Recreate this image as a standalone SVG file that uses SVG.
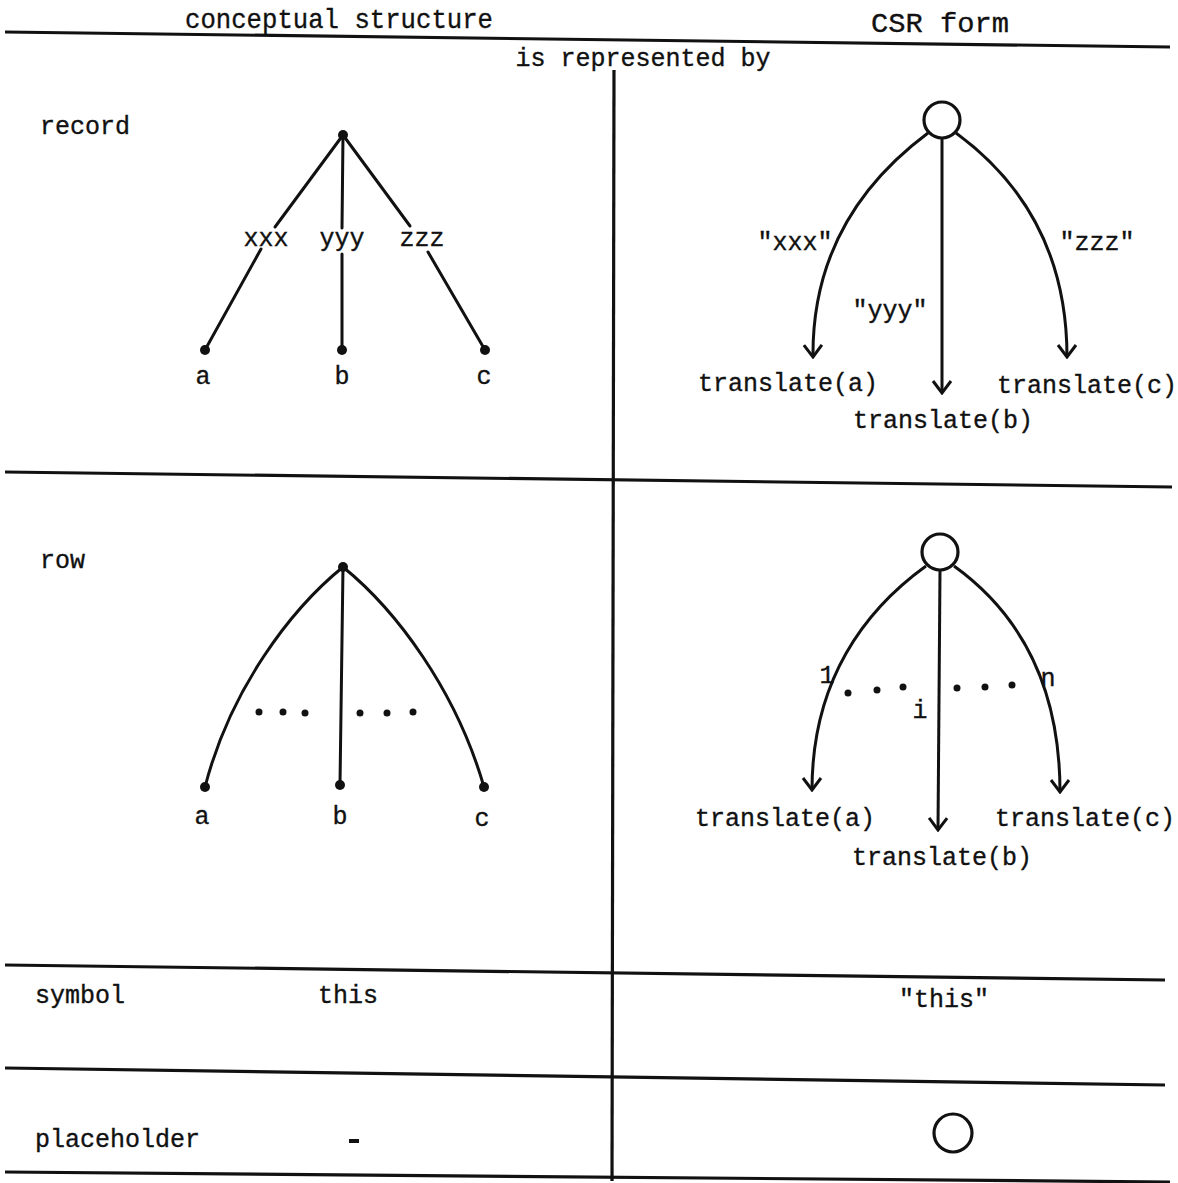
<svg xmlns="http://www.w3.org/2000/svg" width="1178" height="1183" viewBox="0 0 1178 1183">
<style>
.t{font-family:"Liberation Mono","DejaVu Sans Mono",monospace;font-size:25px;fill:#111;stroke:#111;stroke-width:0.35}
.h{font-size:28px}
.m{text-anchor:middle}
.rule{stroke:#111;stroke-width:3.2;fill:none}
.e{stroke:#111;stroke-width:3;fill:none;stroke-linecap:round}
.a{stroke:#111;stroke-width:3;fill:none;marker-end:url(#arr)}
.dot{fill:#111}
.ring{fill:#fff;stroke:#111;stroke-width:3.2}
</style>
<defs>
<marker id="arr" markerUnits="userSpaceOnUse" viewBox="-14 -11 16 22" markerWidth="16" markerHeight="22" refX="0" refY="0" orient="auto">
<path d="M-12,-9 L0,0 L-12,9" fill="none" stroke="#111" stroke-width="3" stroke-linejoin="miter"/>
</marker>
</defs>
<rect width="1178" height="1183" fill="#fff"/>

<g id="table">
<line class="rule" x1="5" y1="32" x2="1170" y2="47"/>
<line class="rule" x1="5" y1="472" x2="1172" y2="487"/>
<line class="rule" x1="5" y1="965" x2="1165" y2="980"/>
<line class="rule" x1="5" y1="1068" x2="1165" y2="1085"/>
<line class="rule" x1="5" y1="1172" x2="1170" y2="1182"/>
<line class="rule" x1="614" y1="70" x2="612" y2="1181"/>
<text class="t h m" x="339" y="28" textLength="308" lengthAdjust="spacingAndGlyphs">conceptual structure</text>
<text class="t h m" x="940" y="32" textLength="138" lengthAdjust="spacingAndGlyphs">CSR form</text>
<text class="t m" x="643" y="66">is represented by</text>
<text class="t" x="40" y="134">record</text>
<text class="t" x="40" y="568">row</text>
<text class="t" x="35" y="1003">symbol</text>
<text class="t" x="35" y="1147">placeholder</text>
</g>

<g id="connectors">
<line class="e" x1="343" y1="135" x2="275" y2="227"/>
<line class="e" x1="261" y1="249" x2="205" y2="350"/>
<line class="e" x1="343" y1="135" x2="342" y2="228"/>
<line class="e" x1="342" y1="254" x2="342" y2="350"/>
<line class="e" x1="343" y1="135" x2="410" y2="226"/>
<line class="e" x1="428" y1="252" x2="485" y2="350"/>
<path class="a" d="M928,133 C865,180 812,250 813,357"/>
<path class="a" d="M942,138 L942,393"/>
<path class="a" d="M956,133 C1020,180 1067,250 1067,357"/>
<path class="e" d="M343,567 C290,610 230,690 205,787"/>
<path class="e" d="M343,567 L340,785"/>
<path class="e" d="M343,567 C396,610 456,690 484,787"/>
<path class="a" d="M926,566 C865,610 812,680 812,790"/>
<path class="a" d="M940,570 L938,830"/>
<path class="a" d="M954,566 C1015,610 1060,680 1060,792"/>
</g>

<g id="record-conceptual">
<circle class="dot" cx="343" cy="135" r="5"/>
<circle class="dot" cx="205" cy="350" r="5"/>
<circle class="dot" cx="342" cy="350" r="5"/>
<circle class="dot" cx="485" cy="350" r="5"/>
<text class="t m" x="266" y="246">xxx</text>
<text class="t m" x="342" y="246">yyy</text>
<text class="t m" x="422" y="246">zzz</text>
<text class="t m" x="203" y="384">a</text>
<text class="t m" x="342" y="384">b</text>
<text class="t m" x="484" y="384">c</text>
</g>

<g id="record-csr">
<circle class="ring" cx="942" cy="120" r="18"/>
<text class="t m" x="795" y="250">"xxx"</text>
<text class="t m" x="890" y="318">"yyy"</text>
<text class="t m" x="1097" y="250">"zzz"</text>
<text class="t" x="698" y="391">translate(a)</text>
<text class="t" x="853" y="428">translate(b)</text>
<text class="t" x="997" y="393">translate(c)</text>
</g>

<g id="row-conceptual">
<circle class="dot" cx="343" cy="567" r="5"/>
<circle class="dot" cx="205" cy="787" r="5"/>
<circle class="dot" cx="340" cy="785" r="5"/>
<circle class="dot" cx="484" cy="787" r="5"/>
<circle class="dot" cx="259" cy="712" r="3.5"/>
<circle class="dot" cx="283" cy="712" r="3.5"/>
<circle class="dot" cx="305" cy="713" r="3.5"/>
<circle class="dot" cx="360" cy="713" r="3.5"/>
<circle class="dot" cx="387" cy="713" r="3.5"/>
<circle class="dot" cx="413" cy="712" r="3.5"/>
<text class="t m" x="202" y="824">a</text>
<text class="t m" x="340" y="824">b</text>
<text class="t m" x="482" y="826">c</text>
</g>

<g id="row-csr">
<circle class="ring" cx="940" cy="552" r="18"/>
<circle class="dot" cx="848" cy="693" r="3.5"/>
<circle class="dot" cx="877" cy="690" r="3.5"/>
<circle class="dot" cx="903" cy="687" r="3.5"/>
<circle class="dot" cx="957" cy="688" r="3.5"/>
<circle class="dot" cx="985" cy="687" r="3.5"/>
<circle class="dot" cx="1012" cy="685" r="3.5"/>
<text class="t m" x="827" y="683">1</text>
<text class="t m" x="1048" y="686">n</text>
<text class="t m" x="920" y="718">i</text>
<text class="t" x="695" y="826">translate(a)</text>
<text class="t" x="852" y="865">translate(b)</text>
<text class="t" x="995" y="826">translate(c)</text>
</g>

<g id="symbol-row">
<text class="t m" x="348" y="1003">this</text>
<text class="t m" x="944" y="1007">"this"</text>
</g>

<g id="placeholder-row">
<rect class="dot" x="349" y="1139" width="10" height="4"/>
<circle cx="953" cy="1133" r="19" fill="none" stroke="#111" stroke-width="3.2"/>
</g>
</svg>
